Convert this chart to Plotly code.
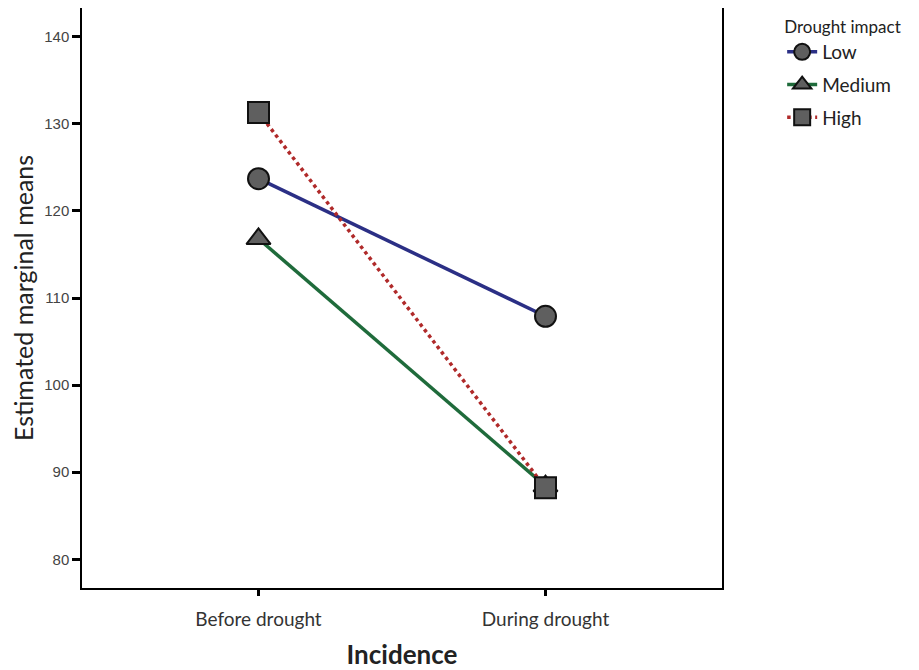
import plotly.graph_objects as go

categories = ["Before drought", "During drought"]
low = [123.7, 107.9]
medium = [116.8, 88.4]
high = [131.3, 88.2]
series_names = ["Low", "Medium", "High"]
y_ticks = [80, 90, 100, 110, 120, 130, 140]

fig = go.Figure()
styles = [
    (low, "#2b2f85", "solid", "circle"),
    (medium, "#1f6b3b", "solid", "triangle-up"),
    (high, "#b02a2a", "dot", "square"),
]
for name, (vals, col, dash, sym) in zip(series_names, styles):
    fig.add_trace(go.Scatter(
        x=[0, 1], y=vals, name=name, mode="lines+markers", legendgroup=name,
        line=dict(color=col, width=3.5, dash=dash),
        marker=dict(symbol=sym, size=21, color="#5f5f5f",
                    line=dict(color="#111111", width=2)),
    ))

fig.update_layout(
    width=911, height=662,
    margin=dict(l=74, r=197, t=0, b=82),
    paper_bgcolor="white", plot_bgcolor="white",
    showlegend=True,
    legend=dict(
        x=1.094, y=0.995, xanchor="left", yanchor="top",
        title=dict(text="Drought impact", font=dict(family="Lato, Open Sans", size=17, color="#222")),
        font=dict(family="Lato, Open Sans", size=19, color="#222"),
        tracegroupgap=5,
    ),
    xaxis=dict(
        range=[-0.615, 1.615], tickmode="array", tickvals=[0, 1], ticktext=categories,
        showgrid=False, zeroline=False, showline=True, linecolor="black", linewidth=1.5,
        mirror=True, ticks="outside", ticklen=6, tickwidth=3, tickcolor="black",
        tickfont=dict(family="Lato, Open Sans", size=19, color="#333"),
        ticklabelstandoff=7,
        title=dict(text="<b>Incidence</b>", font=dict(family="Lato, Open Sans", size=26, color="#222"), standoff=20),
        automargin=False,
    ),
    yaxis=dict(
        range=[76.7, 143.3], tickmode="array", tickvals=y_ticks,
        showgrid=False, zeroline=False, showline=True, linecolor="black", linewidth=1.5,
        mirror=True, ticks="outside", ticklen=8, tickwidth=3, tickcolor="black",
        tickfont=dict(family="Liberation Sans, Arial", size=15, color="#444"),
        title=dict(text="Estimated marginal means", font=dict(family="Lato, Open Sans", size=25, color="#222"), standoff=6),
        automargin=False,
    ),
)
fig.write_html("out.html")
